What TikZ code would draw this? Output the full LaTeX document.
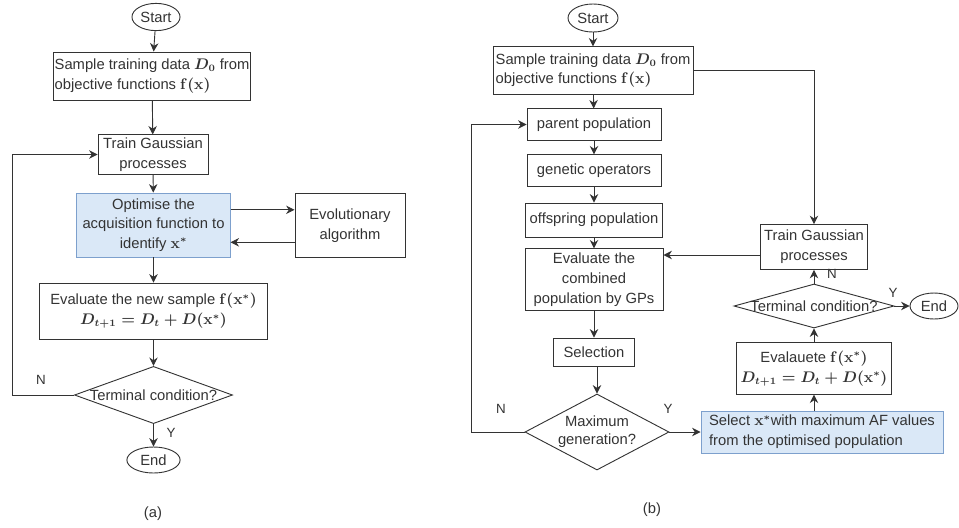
\documentclass[tikz,border=0pt]{standalone}
\usepackage[no-math]{fontspec}
\setmainfont{Liberation Sans}
\usetikzlibrary{shapes.geometric, arrows.meta}

\definecolor{afblue}{RGB}{218,232,247}
\definecolor{afedge}{RGB}{125,160,205}
\definecolor{ink}{RGB}{51,51,51}

\tikzset{
    base/.style={draw=ink, text=ink, line width=0.65pt, inner sep=1pt,
        font=\boldmath\fontsize{10.5}{14}\selectfont},
    box/.style={base, rectangle, align=center},
    bluebox/.style={box, fill=afblue, draw=afedge},
    term/.style={base, ellipse},
    decide/.style={base, diamond, align=center},
    arr/.style={draw=ink, line width=0.65pt, -{Stealth[length=6pt, width=6pt]}},
    lbl/.style={text=ink, font=\fontsize{9.5}{11}\selectfont, inner sep=0pt},
}

\begin{document}
\begin{tikzpicture}[x=0.025cm, y=-0.025cm]
    % Khung hình theo kích thước ảnh gốc
    \useasboundingbox (0,0) rectangle (959,527);

    % ==================== (a): TỐI ƯU HÀM THU NHẬN ====================
    \begin{scope}
        % 1. Các khối
        \node[term, minimum width=1.2cm, minimum height=0.68cm] (startA) at (156,17) {Start};
        \node[box, align=left, minimum width=4.9cm, minimum height=1.2cm] (sampleA) at (152,76)
            {Sample training data $D_0$ from\\objective functions $\mathbf{f}(\mathbf{x})$};
        \node[box, minimum width=2.75cm, minimum height=0.98cm] (gpA) at (153,154.5)
            {Train Gaussian\\processes};
        \node[bluebox, minimum width=3.83cm, minimum height=1.6cm] (optA) at (153.5,225)
            {Optimise the\\acquisition function to\\identify $\mathbf{x}^*$};
        \node[box, minimum width=2.75cm, minimum height=1.58cm] (evoA) at (350,225.5)
            {Evolutionary\\algorithm};
        \node[box, minimum width=5.68cm, minimum height=1.4cm] (evalA) at (153.5,311)
            {Evaluate the new sample $\mathbf{f}(\mathbf{x}^*)$\\$D_{t+1}=D_t+D(\mathbf{x}^*)$};
        \node[decide, minimum width=3.95cm, minimum height=1.43cm] (termA) at (153.5,395)
            {\makebox[0pt]{Terminal condition?}};
        \node[term, minimum width=1.33cm, minimum height=0.65cm] (endA) at (153.5,460) {End};
        \coordinate (loopA) at (12,0);

        % 2. Mũi tên
        \draw[arr] (startA) -- (sampleA);
        \draw[arr] (sampleA) -- (gpA);
        \draw[arr] (gpA) -- (optA);
        \draw[arr] ([yshift=0.38cm]optA.east) -- ([yshift=0.38cm]optA.east -| evoA.west);
        \draw[arr] ([yshift=-0.42cm]evoA.west) -- ([yshift=-0.42cm]evoA.west -| optA.east);
        \draw[arr] (optA) -- (evalA);
        \draw[arr] (evalA) -- (termA);
        \draw[arr] (termA) -- (endA);
        \draw[arr] (termA.west) -- (termA.west -| loopA) |- (gpA.west);

        % 3. Nhãn
        \node[lbl] (nA) at (41,380) {N};
        \node[lbl] (yA) at (171,433) {Y};
        \node[lbl, font=\fontsize{10.5}{12}\selectfont] (capA) at (153,514) {(a)};
    \end{scope}

    % ==================== (b): GA VỚI MÔ HÌNH GP ====================
    \begin{scope}
        % 1. Cột trái
        \node[term, minimum width=1.25cm, minimum height=0.7cm] (startB) at (593,18) {Start};
        \node[box, align=left, minimum width=5.0cm, minimum height=1.18cm] (sampleB) at (593,70.5)
            {Sample training data $D_0$ from\\objective functions $\mathbf{f}(\mathbf{x})$};
        \node[box, minimum width=3.35cm, minimum height=0.78cm] (parentB) at (594,124.5)
            {parent population};
        \node[box, minimum width=3.35cm, minimum height=0.78cm] (genB) at (594,170.5)
            {genetic operators};
        \node[box, minimum width=3.43cm, minimum height=0.85cm] (offB) at (594,220)
            {offspring population};
        \node[box, minimum width=3.45cm, minimum height=1.53cm] (evalB) at (594,279.5)
            {Evaluate the\\combined\\population by GPs};
        \node[box, minimum width=2.03cm, minimum height=0.7cm] (selB) at (594,352)
            {Selection};
        \node[decide, minimum width=3.6cm, minimum height=1.9cm] (maxB) at (597,432)
            {\makebox[0pt]{\shortstack{Maximum\\[2pt]generation?}}};
        \coordinate (loopB) at (471,0);

        % 2. Cột phải
        \node[box, minimum width=2.68cm, minimum height=1.12cm] (gpB) at (814,247)
            {Train Gaussian\\processes};
        \node[decide, minimum width=4.0cm, minimum height=1.1cm] (termB) at (814,306)
            {\makebox[0pt]{Terminal condition?}};
        \node[term, minimum width=1.2cm, minimum height=0.65cm] (endB) at (934,306) {End};
        \node[box, minimum width=3.88cm, minimum height=1.28cm] (evaluB) at (814,368.5)
            {Evalauete $\mathbf{f}(\mathbf{x}^*)$\\$D_{t+1}=D_t+D(\mathbf{x}^*)$};
        \node[bluebox, align=left, minimum width=6.05cm, minimum height=1.05cm] (selectB) at (822,432)
            {Select $\mathbf{x}^*$with maximum AF values\\from the optimised population};

        % 3. Mũi tên
        \draw[arr] (startB) -- (sampleB);
        \draw[arr] (sampleB) -- (parentB);
        \draw[arr] (parentB) -- (genB);
        \draw[arr] (genB) -- (offB);
        \draw[arr] (offB) -- (evalB);
        \draw[arr] (evalB) -- (selB);
        \draw[arr] (selB.south -| maxB.north) -- (maxB.north);
        \draw[arr] (maxB.west) -- (maxB.west -| loopB) |- (parentB.west);
        \draw[arr] (maxB.east) -- (selectB.west);
        \draw[arr] (selectB.north -| evaluB.south) -- (evaluB.south);
        \draw[arr] (evaluB) -- (termB);
        \draw[arr] (termB) -- (gpB);
        \draw[arr] (termB) -- (endB);
        \draw[arr] (sampleB.east) -| (gpB.north);
        \draw[arr] ([yshift=-0.2cm]gpB.west) -- ([yshift=-0.2cm]gpB.west -| evalB.east);

        % 4. Nhãn
        \node[lbl] (nB1) at (501,409) {N};
        \node[lbl] (yB1) at (668,409) {Y};
        \node[lbl] (nB2) at (832,274) {N};
        \node[lbl] (yB2) at (893,293) {Y};
        \node[lbl, font=\fontsize{10.5}{12}\selectfont] (capB) at (652,510) {(b)};
    \end{scope}

\end{tikzpicture}
\end{document}
